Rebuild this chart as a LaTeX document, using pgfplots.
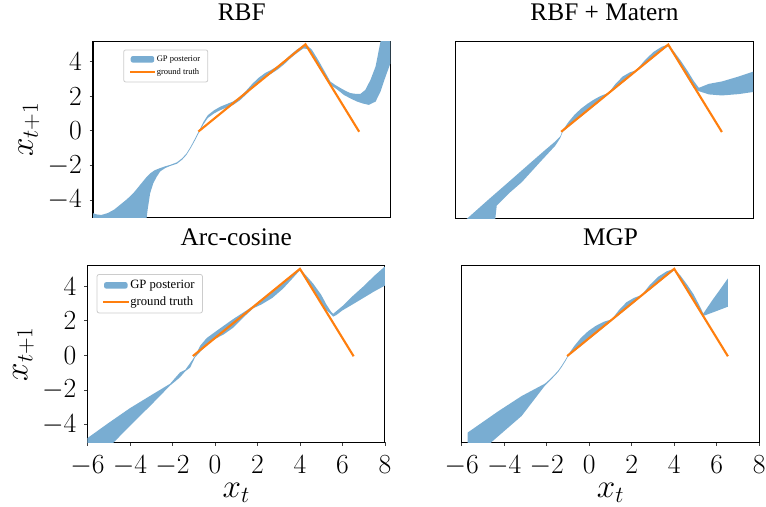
\documentclass[border=0pt]{standalone}
\usepackage{fontspec}
\setmainfont{Liberation Serif}
\usepackage{pgfplots}
\pgfplotsset{compat=1.18}
\definecolor{gpblue}{RGB}{121,173,210}
\definecolor{gtorange}{RGB}{255,127,14}
\pgfplotsset{
  panel/.style={
    scale only axis, width=223.1pt, height=132.5pt,
    xmin=-6, xmax=8, ymin=-5.03, ymax=5.18,
    axis line style={line width=0.8pt},
    tick align=outside, major tick length=2.6pt, tick pos=left,
    tick style={line width=0.6pt, black!75},
    xtick={-6,-4,...,8}, ytick={-4,-2,...,4},
    tick label style={font=\fontsize{20}{24}\selectfont, inner sep=0pt},
    yticklabel style={xshift=-5.6pt},
    xticklabel style={yshift=-7.1pt},
    title style={font=\fontsize{19}{23}\selectfont, at={(0.5,1)}, anchor=base, yshift=9.5pt},
    xlabel style={font=\fontsize{23}{27}\selectfont, at={(rel axis cs:0.5,-0.311)}, anchor=base},
    ylabel style={font=\fontsize{23}{27}\selectfont, at={(rel axis cs:-0.2017,0.5)}, anchor=base},
    legend cell align=left,
  },
  band/.style={fill=gpblue, draw=none,
    legend image code/.code={\fill[gpblue] (0pt,-2.4pt) rectangle (17.6pt,2.4pt);}},
  truth/.style={gtorange, line width=1.6pt, line cap=rect,
    legend image code/.code={\draw[gtorange, line width=1.5pt] (0pt,0pt) -- (17.6pt,0pt);}},
}
\begin{document}
\begin{tikzpicture}
\useasboundingbox (0,0) rectangle (574.5pt,-379.5pt);

% ---------------- RBF ----------------
\begin{axis}[panel, at={(69.75pt,-30.9pt)}, anchor=north west,
  xtick=\empty, ylabel={$x_{t+1}$}, title={RBF},
  legend style={at={(rel axis cs:0.102,0.953)}, anchor=north west,
    font=\fontsize{6.4}{7.6}\selectfont, draw=black!20, line width=0.6pt,
    rounded corners=1.5pt, inner xsep=4.5pt, inner ysep=3pt,
    nodes={inner sep=1.2pt}, row sep=1.6pt,
    /tikz/every even column/.append style={column sep=2pt}}]
\addplot[band] coordinates {
(-6.1,-4.74) (-6.0,-4.76) (-5.8,-4.84) (-5.6,-4.86) (-5.3,-4.75) (-5.0,-4.55)
(-4.7,-4.25) (-4.4,-3.95) (-4.1,-3.6) (-3.8,-3.15) (-3.5,-2.7) (-3.3,-2.45)
(-3.1,-2.28) (-2.9,-2.18) (-2.6,-2.05) (-2.37,-1.97)
(-2.05,-1.82) (-1.8,-1.58) (-1.6,-1.31) (-1.4,-0.91) (-1.2,-0.45) (-1.0,0.03)
(-0.8,0.52) (-0.6,0.90) (-0.3,1.19) (0.0,1.40) (0.3,1.55) (0.6,1.70) (0.9,1.95)
(1.2,2.31) (1.5,2.72) (1.8,3.07) (2.1,3.34) (2.4,3.53) (2.7,3.75) (3.0,4.05)
(3.3,4.40) (3.6,4.70) (3.9,4.94) (4.1,4.91) (4.3,4.69) (4.6,4.09) (4.9,3.44)
(5.17,2.85) (5.4,2.65) (5.65,2.47) (5.9,2.3) (6.12,2.18) (6.4,2.13) (6.59,2.14)
(6.82,2.37) (7.06,2.95) (7.3,3.72) (7.53,5.16) (7.6,5.6) (8.2,5.6)
(8.2,4.6) (8.0,3.91) (7.77,3.14) (7.53,2.27) (7.3,1.69) (6.98,1.50) (6.7,1.58)
(6.43,1.69) (6.1,1.88) (5.8,2.08) (5.5,2.38) (5.17,2.66)
(4.9,3.16) (4.6,3.81) (4.3,4.41) (4.1,4.73) (3.9,4.76) (3.6,4.50) (3.3,4.20)
(3.0,3.85) (2.7,3.55) (2.4,3.31) (2.1,3.10) (1.8,2.83) (1.5,2.48) (1.2,2.09)
(0.9,1.75) (0.6,1.50) (0.3,1.35) (0.0,1.20) (-0.3,1.01) (-0.6,0.74) (-0.8,0.38)
(-1.0,-0.07) (-1.2,-0.55) (-1.4,-0.99) (-1.6,-1.39) (-1.8,-1.66) (-2.05,-1.90)
(-2.37,-2.03) (-2.6,-2.15) (-2.84,-2.35) (-3.0,-2.65) (-3.16,-3.02) (-3.31,-3.6)
(-3.43,-4.57) (-3.5,-5.3) (-6.1,-5.3)
} -- cycle;
\addlegendentry{GP posterior}
\addplot[truth] coordinates {(-1,0) (4,5) (6.5,0)};
\addlegendentry{ground truth}
\end{axis}

% ---------------- RBF + Matern ----------------
\begin{axis}[panel, at={(341.8pt,-31.1pt)}, anchor=north west,
  xtick=\empty, ytick=\empty, title={RBF + Matern}]
\addplot[band] coordinates {
(-5.6,-5.2) (-5.44,-5.03) (-4.5,-4.0) (-3.5,-2.93) (-2.5,-1.85) (-1.8,-1.1)
(-1.32,-0.6) (-1.08,-0.3) (-0.97,0.03)
(-0.7,0.52) (-0.4,0.96) (-0.1,1.30) (0.2,1.58) (0.5,1.82) (0.8,2.02) (1.0,2.12)
(1.2,2.22) (1.5,2.7) (1.85,3.15) (2.2,3.4) (2.5,3.52) (2.9,4.1) (3.3,4.57)
(3.7,4.88) (4.0,5.0)
(4.3,4.55) (4.6,4.05) (4.9,3.5) (5.2,2.9) (5.44,2.5)
(5.91,2.73) (6.53,2.87) (7.33,3.16) (8.1,3.48)
(8.1,2.28) (7.33,2.14) (6.53,2.06) (5.91,2.12) (5.44,2.31)
(5.2,2.5) (4.9,3.1) (4.6,3.72) (4.3,4.34) (4.0,4.92)
(3.7,4.65) (3.3,4.25) (2.9,3.85) (2.5,3.47) (2.2,3.15) (1.85,2.8) (1.5,2.45)
(1.2,2.17) (1.0,1.95) (0.8,1.74) (0.5,1.44) (0.2,1.14) (-0.1,0.84) (-0.4,0.55)
(-0.7,0.25) (-0.97,-0.05)
(-1.08,-0.4) (-1.32,-0.85) (-2.0,-1.75) (-2.89,-2.95) (-3.5,-3.6) (-4.07,-4.3)
(-4.15,-5.2)
} -- cycle;
\addplot[truth] coordinates {(-1,0) (4,5) (6.5,0)};
\end{axis}

% ---------------- Arc-cosine ----------------
\begin{axis}[panel, at={(65.6pt,-199.3pt)}, anchor=north west,
  xlabel={$x_t$}, ylabel={$x_{t+1}$}, title={Arc-cosine},
  legend style={at={(rel axis cs:0.031,0.953)}, anchor=north west,
    font=\fontsize{9.5}{11.4}\selectfont, draw=black!20, line width=0.6pt,
    rounded corners=1.5pt, inner xsep=4.5pt, inner ysep=3pt,
    nodes={inner sep=1.3pt}, row sep=1.8pt,
    /tikz/every even column/.append style={column sep=2.4pt}}]
\addplot[band] coordinates {
(-6.1,-4.86) (-6.0,-4.78) (-5.0,-3.9) (-4.0,-3.05) (-3.0,-2.3) (-2.11,-1.64)
(-1.87,-1.30) (-1.64,-0.98) (-1.40,-0.84) (-1.17,-0.45) (-0.94,-0.04)
(-0.7,0.55) (-0.39,1.0) (0.0,1.35) (0.4,1.7) (0.86,2.1) (1.3,2.45) (1.8,2.85)
(2.2,3.25) (2.7,3.72) (3.2,4.22) (3.6,4.62) (3.99,5.02)
(4.3,4.6) (4.62,4.15) (5.0,3.5) (5.24,2.95) (5.45,2.55) (5.56,2.4)
(6.0,2.85) (6.5,3.45) (7.0,4.0) (7.5,4.6) (8.1,5.25)
(8.1,4.1) (7.5,3.7) (7.0,3.33) (6.5,2.96) (6.0,2.6) (5.7,2.32) (5.56,2.24)
(5.4,2.45) (5.2,2.65) (4.9,3.2) (4.6,3.78) (4.3,4.38) (4.0,4.92)
(3.6,4.38) (3.2,3.85) (2.7,3.32) (2.2,2.95) (1.8,2.72) (1.3,2.15) (0.86,1.6)
(0.4,1.2) (0.0,0.95) (-0.39,0.6) (-0.7,0.2) (-0.94,-0.12)
(-1.17,-0.71) (-1.40,-0.92) (-1.64,-1.26) (-1.87,-1.50) (-2.11,-1.74)
(-3.0,-2.86) (-4.0,-4.07) (-4.9,-5.2) (-6.1,-5.2)
} -- cycle;
\addlegendentry{GP posterior}
\addplot[truth] coordinates {(-1,0) (4,5) (6.5,0)};
\addlegendentry{ground truth}
\end{axis}

% ---------------- MGP ----------------
\begin{axis}[panel, at={(346.3pt,-199.3pt)}, anchor=north west,
  ytick=\empty, xlabel={$x_t$}, title={MGP}]
\addplot[band] coordinates {
(-5.72,-5.2) (-5.72,-4.46) (-4.27,-3.22) (-3.18,-2.35) (-2.08,-1.63)
(-1.85,-1.38) (-1.61,-1.08) (-1.45,-0.86) (-1.29,-0.58) (-1.1,-0.21) (-0.98,0.06)
(-0.7,0.55) (-0.4,1.0) (-0.05,1.4) (0.3,1.7) (0.7,1.95) (1.06,2.08) (1.4,2.62)
(1.75,3.07) (2.1,3.32) (2.47,3.49) (2.85,4.07) (3.25,4.55) (3.65,4.86) (4.0,5.0)
(4.3,4.6) (4.6,4.1) (4.9,3.55) (5.15,2.97) (5.37,2.42)
(5.8,3.2) (6.2,3.88) (6.52,4.44)
(6.52,2.81) (5.9,2.52) (5.37,2.28)
(5.15,2.65) (4.9,3.15) (4.6,3.75) (4.3,4.35) (4.0,4.92)
(3.65,4.59) (3.25,4.19) (2.85,3.79) (2.47,3.43) (2.1,3.04) (1.75,2.69) (1.4,2.34)
(1.06,2.0) (0.7,1.64) (0.3,1.24) (-0.05,0.89) (-0.4,0.54) (-0.7,0.24) (-0.98,-0.02)
(-1.1,-0.29) (-1.29,-0.66) (-1.45,-0.94) (-1.61,-1.16) (-1.85,-1.46) (-2.08,-1.74)
(-3.18,-3.5) (-4.59,-5.0) (-4.7,-5.2)
} -- cycle;
\addplot[truth] coordinates {(-1,0) (4,5) (6.5,0)};
\end{axis}
\end{tikzpicture}
\end{document}
